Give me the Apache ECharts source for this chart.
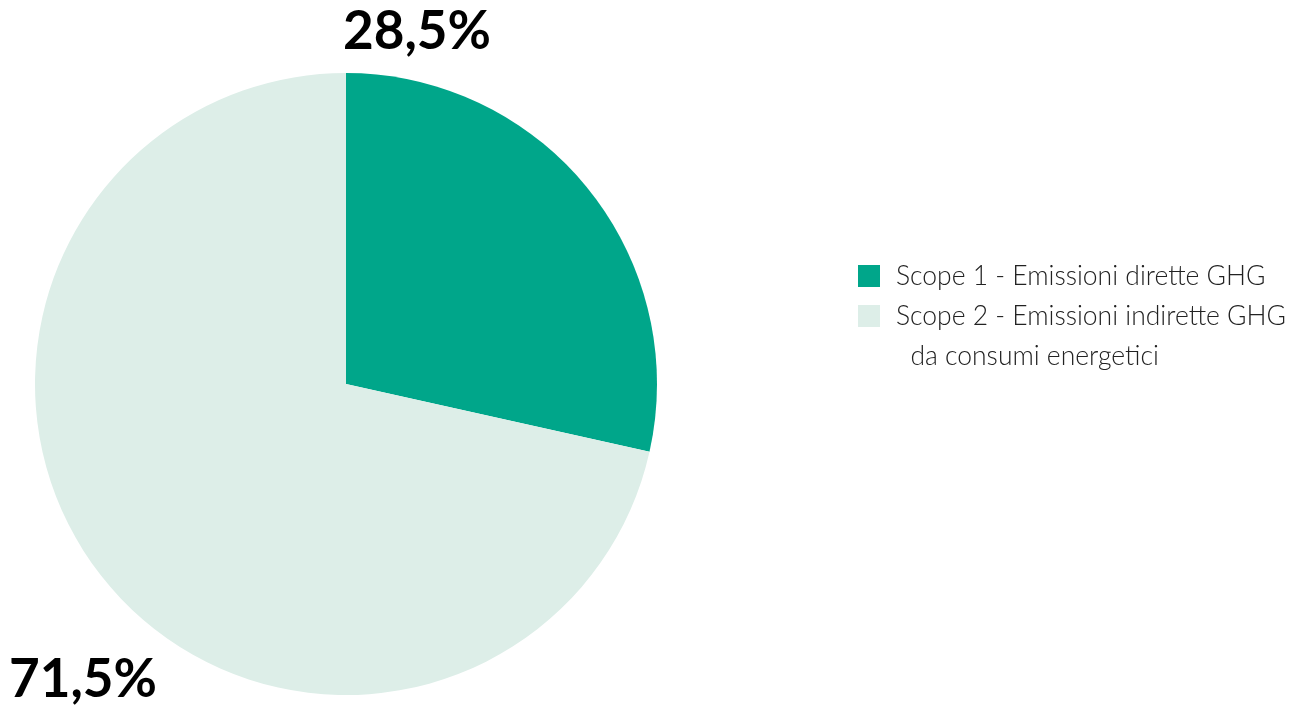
<!DOCTYPE html>
<html><head><meta charset="utf-8">
<script src="https://cdn.jsdelivr.net/npm/echarts@6/dist/echarts.min.js"></script>
<style>html,body{margin:0;padding:0;background:#fff}#c{width:1297px;height:705px}</style>
</head><body><div id="c"></div>
<script>
const categories = ['Scope 1 - Emissioni dirette GHG', 'Scope 2 - Emissioni indirette GHG\n  da consumi energetici'];
const values = [28.5, 71.5];
const colors = ['#00A68A', '#DDEEE8'];
const labelPos = [[417, 32], [83, 680]];

const chart = echarts.init(document.getElementById('c'));
chart.setOption({
  animation: false,
  color: colors,
  legend: {
    orient: 'vertical',
    left: 858, top: 256,
    padding: 0,
    itemWidth: 22, itemHeight: 22,
    itemGap: -40,
    icon: 'rect',
    formatter: n => (n.indexOf('\n') >= 0 ? '\n' + n : n),
    textStyle: { fontFamily: 'Lato', fontWeight: 300, fontSize: 26.5, color: '#222', lineHeight: 40, padding: [0, 0, 0, 11] },
    data: categories
  },
  series: [{
    type: 'pie',
    center: [346, 384],
    radius: 311,
    startAngle: 90,
    clockwise: true,
    silent: true,
    data: categories.map((n, i) => ({ name: n, value: values[i] })),
    label: {
      show: true,
      position: 'outside',
      overflow: 'none',
      formatter: p => String(p.value).replace('.', ',') + '%',
      fontFamily: 'Lato', fontWeight: 'bold', fontSize: 53, color: '#000'
    },
    labelLine: { show: false },
    labelLayout: p => ({ x: labelPos[p.dataIndex][0], y: labelPos[p.dataIndex][1], align: 'center', verticalAlign: 'middle', width: 300 })
  }]
});
</script></body></html>
